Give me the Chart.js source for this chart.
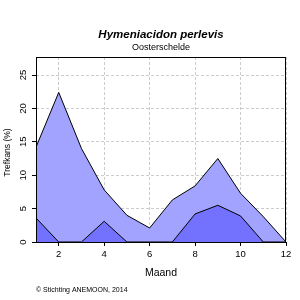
<!DOCTYPE html>
<html>
<head>
<meta charset="utf-8">
<script src="https://cdn.jsdelivr.net/npm/chart.js@4"></script>
<style>
  html, body { margin: 0; padding: 0; background: #fff; }
  #wrap { width: 300px; height: 300px; }
</style>
</head>
<body>
<div id="wrap"><canvas id="chart" width="300" height="300"></canvas></div>
<script>
// Trefkans per maand (%)
const months = [1, 2, 3, 4, 5, 6, 7, 8, 9, 10, 11, 12];
const upperSeries = [14.2, 22.4, 14.0, 7.8, 4.0, 2.1, 6.3, 8.4, 12.5, 7.3, 3.8, 0];
const lowerSeries = [3.6, 0, 0, 3.1, 0, 0, 0, 4.2, 5.5, 3.9, 0, 0];
const xTicks = [2, 4, 6, 8, 10, 12];
const yTicks = [0, 5, 10, 15, 20, 25];

const FONT = "'Liberation Sans', Arial, sans-serif";

const toPoints = vals => months.map((m, i) => ({ x: m, y: vals[i] }));

// Frame, rotated y labels and the texts around the plot
const decorations = {
    id: 'decorations',
    afterDraw(chart) {
        const { ctx, chartArea: a, scales: { y } } = chart;
        ctx.save();
        ctx.strokeStyle = '#000';
        ctx.lineWidth = 1;
        ctx.strokeRect(a.left + 0.5, a.top + 0.5, a.right - a.left - 1, a.bottom - a.top);

        ctx.fillStyle = '#000';
        // y tick labels, vertical like in R
        ctx.font = `9.5px ${FONT}`;
        ctx.textAlign = 'center';
        ctx.textBaseline = 'alphabetic';
        y.ticks.forEach(t => {
            ctx.save();
            ctx.translate(25.5, y.getPixelForValue(t.value));
            ctx.rotate(-Math.PI / 2);
            ctx.fillText(String(t.value), 0, 0);
            ctx.restore();
        });

        const cx = (a.left + a.right) / 2;
        ctx.font = `bold italic 11.5px ${FONT}`;
        ctx.fillText('Hymeniacidon perlevis', cx, 37.5);
        ctx.font = `9px ${FONT}`;
        ctx.fillText('Oosterschelde', cx, 50);
        ctx.font = `10.5px ${FONT}`;
        ctx.fillText('Maand', cx, 276);

        ctx.save();
        ctx.translate(9.5, (a.top + a.bottom) / 2 + 3);
        ctx.rotate(-Math.PI / 2);
        ctx.font = `8.5px ${FONT}`;
        ctx.fillText('Trefkans (%)', 0, 0);
        ctx.restore();

        ctx.textAlign = 'left';
        ctx.font = `7px ${FONT}`;
        ctx.fillText('\u00A9 Stichting ANEMOON, 2014', 36, 292);
        ctx.restore();
    }
};

const gridOpts = {
    color: '#cccccc',
    lineWidth: 1,
    drawTicks: true,
    tickLength: 4,
    tickColor: '#000',
    tickBorderDash: []
};

new Chart(document.getElementById('chart'), {
    type: 'line',
    data: {
        datasets: [
            {
                data: toPoints(lowerSeries),
                backgroundColor: '#7272ff',
                borderColor: '#000',
                fill: 'origin'
            },
            {
                data: toPoints(upperSeries),
                backgroundColor: '#a2a2ff',
                borderColor: '#000',
                fill: 'origin'
            }
        ]
    },
    options: {
        responsive: false,
        animation: false,
        layout: { padding: { top: 57, right: 14, bottom: 0, left: 0 } },
        elements: {
            point: { radius: 0 },
            line: { tension: 0, borderWidth: 1 }
        },
        plugins: {
            legend: { display: false },
            tooltip: { enabled: false }
        },
        scales: {
            x: {
                type: 'linear',
                min: 1,
                max: 12,
                afterBuildTicks: s => { s.ticks = xTicks.map(v => ({ value: v })); },
                afterFit: s => { s.height = 58; },
                grid: gridOpts,
                border: { display: false, dash: [3, 2] },
                ticks: {
                    color: '#000',
                    font: { family: FONT, size: 9.5 },
                    padding: 3,
                    maxRotation: 0,
                    autoSkip: false
                }
            },
            y: {
                min: 0,
                max: 27.7,
                afterBuildTicks: s => { s.ticks = yTicks.map(v => ({ value: v })); },
                afterFit: s => { s.width = 36; },
                grid: gridOpts,
                border: { display: false, dash: [3, 2] },
                ticks: { display: false }
            }
        }
    },
    plugins: [decorations]
});
</script>
</body>
</html>
